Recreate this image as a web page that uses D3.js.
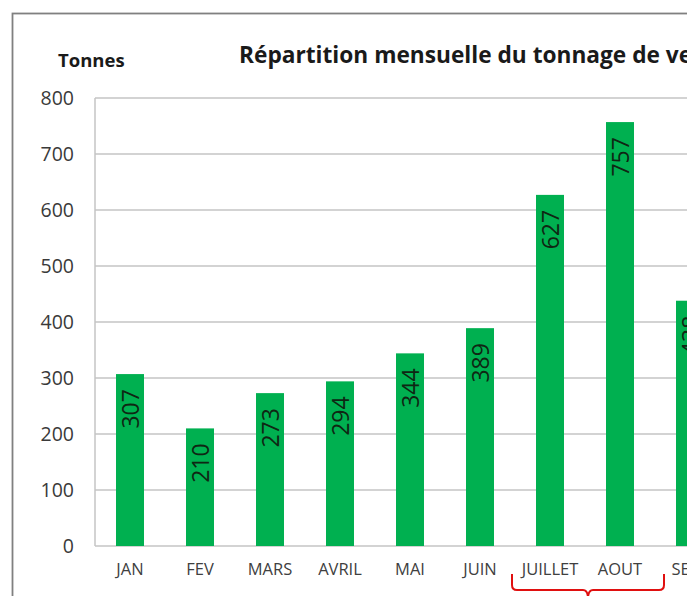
<!DOCTYPE html>
<html>
<head>
<meta charset="utf-8">
<script src="https://cdn.jsdelivr.net/npm/d3@7"></script>
<style>
    body { margin: 0; background: #fff; }
    svg { display: block; font-family: "Open Sans", sans-serif; }
</style>
</head>
<body>
<svg width="687" height="596"></svg>
<script>
// Données du graphique
const months = ["JAN", "FEV", "MARS", "AVRIL", "MAI", "JUIN", "JUILLET", "AOUT", "SEPT"];
const tonnage = [307, 210, 273, 294, 344, 389, 627, 757, 438];
const yTicks = [0, 100, 200, 300, 400, 500, 600, 700, 800];
const braceMonths = ["JUILLET", "AOUT"];

const data = months.map((m, i) => ({ month: m, value: tonnage[i] }));

const svg = d3.select("svg");

// Zone du graphique
const area = { left: 95, top: 98, bottom: 546, step: 70 };

// Cadre extérieur
svg.append("rect")
    .attr("x", 12.5).attr("y", 13.5)
    .attr("width", 720).attr("height", 620)
    .attr("fill", "none")
    .attr("stroke", "#808080")
    .attr("stroke-width", 1.8);

// Titres
svg.append("text")
    .attr("x", 239).attr("y", 63)
    .attr("font-size", 22.7).attr("font-weight", "bold")
    .attr("fill", "#1a1a1a")
    .text("Répartition mensuelle du tonnage de vente");

svg.append("text")
    .attr("x", 58).attr("y", 67)
    .attr("font-size", 18.5).attr("font-weight", "bold")
    .attr("fill", "#1a1a1a")
    .text("Tonnes");

// Echelles
const x = d3.scaleBand()
    .domain(months)
    .range([area.left, area.left + area.step * months.length])
    .paddingInner(0.6)
    .paddingOuter(0.3);

const y = d3.scaleLinear()
    .domain([0, 800])
    .range([area.bottom, area.top]);

// Grille horizontale
svg.append("g")
    .selectAll("line")
    .data(yTicks)
    .join("line")
    .attr("x1", area.left).attr("x2", 700)
    .attr("y1", d => y(d)).attr("y2", d => y(d))
    .attr("stroke", "#c4c4c4")
    .attr("stroke-width", 1.5);

// Axe vertical
svg.append("line")
    .attr("x1", area.left).attr("x2", area.left)
    .attr("y1", area.top).attr("y2", area.bottom)
    .attr("stroke", "#c4c4c4")
    .attr("stroke-width", 1.5);

// Axe Y
const axisY = d3.axisLeft(y).tickValues(yTicks).tickSize(0).tickPadding(21);
const gY = svg.append("g")
    .attr("transform", `translate(${area.left}, 0)`)
    .call(axisY);
gY.select(".domain").remove();
gY.selectAll("text")
    .attr("font-size", 19.5)
    .attr("font-family", "Open Sans, sans-serif")
    .attr("fill", "#3a3a3a");

// Axe X
const axisX = d3.axisBottom(x).tickSize(0).tickPadding(17);
const gX = svg.append("g")
    .attr("transform", `translate(0, ${area.bottom})`)
    .call(axisX);
gX.select(".domain").remove();
gX.selectAll("text")
    .attr("font-size", 16.5)
    .attr("font-family", "Open Sans, sans-serif")
    .attr("fill", "#404040");

// Barres
svg.append("g")
    .selectAll("rect")
    .data(data)
    .join("rect")
    .attr("x", d => x(d.month))
    .attr("y", d => y(d.value))
    .attr("width", x.bandwidth())
    .attr("height", d => area.bottom - y(d.value))
    .attr("fill", "#00b050");

// Etiquettes des valeurs (verticales)
svg.append("g")
    .selectAll("text")
    .data(data)
    .join("text")
    .attr("transform", d => `translate(${x(d.month) + x.bandwidth() / 2}, ${y(d.value) + 15}) rotate(-90)`)
    .attr("text-anchor", "end")
    .attr("dominant-baseline", "central")
    .attr("font-size", 23)
    .attr("fill", "#0f2613")
    .text(d => d.value);

// Accolade rouge sous JUILLET et AOUT
const bx1 = x(braceMonths[0]) + x.bandwidth() / 2 - 38;
const bx2 = x(braceMonths[1]) + x.bandwidth() / 2 + 44;
const bmid = (bx1 + bx2) / 2;
const byTop = 574, byLow = 590, r = 5;
svg.append("path")
    .attr("d", `M${bx1},${byTop} L${bx1},${byLow - r} Q${bx1},${byLow} ${bx1 + r},${byLow}
                L${bmid - r},${byLow} Q${bmid},${byLow} ${bmid},${byLow + r + 4}
                Q${bmid},${byLow} ${bmid + r},${byLow}
                L${bx2 - r},${byLow} Q${bx2},${byLow} ${bx2},${byLow - r} L${bx2},${byTop}`)
    .attr("fill", "none")
    .attr("stroke", "#e01010")
    .attr("stroke-width", 2);
</script>
</body>
</html>
